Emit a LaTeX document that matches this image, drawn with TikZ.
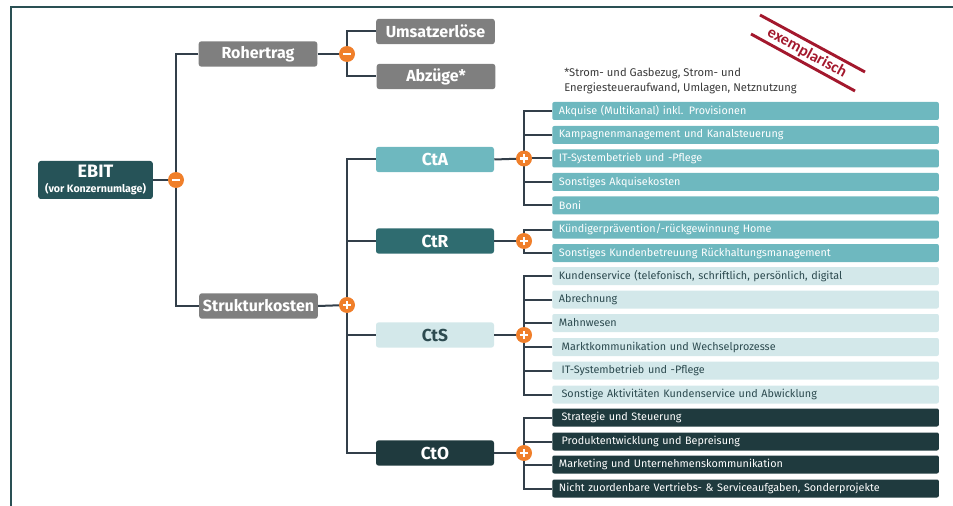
\documentclass[tikz,border=0pt]{standalone}
\usepackage{fontspec}
\setmainfont{Fira Sans}
\newfontfamily\stampfont{Carlito}

\definecolor{framecol}{HTML}{2A5054}
\definecolor{ebitcol}{HTML}{265358}
\definecolor{graycol}{HTML}{7F7F7F}
\definecolor{ctacol}{HTML}{6EB8BF}
\definecolor{ctrcol}{HTML}{2F6C70}
\definecolor{ctscol}{HTML}{D3E8EA}
\definecolor{ctstext}{HTML}{2C4A4F}
\definecolor{ctocol}{HTML}{1F3A3E}
\definecolor{orangecol}{HTML}{F07F2A}
\definecolor{linecol}{HTML}{333F4A}
\definecolor{stampcol}{HTML}{A3182D}
\definecolor{notecol}{HTML}{3A3A3A}

\tikzset{
  box/.style={rounded corners=2pt, text=white, inner sep=0pt,
    minimum width=89pt, minimum height=19pt,
    font=\bfseries\fontsize{12}{13}\selectfont},
  ctbox/.style={box, minimum width=88.5pt, font=\bfseries\fontsize{13}{14}\selectfont},
  item/.style={rounded corners=1.5pt, anchor=west, text=white,
    text width=280pt, inner xsep=5pt, inner ysep=0pt, align=left,
    minimum height=13.5pt, font=\fontsize{8.1}{9}\selectfont},
  conn/.style={draw=linecol, line width=1.5pt},
  opminus/.style={circle, fill=orangecol, minimum size=12pt, inner sep=0pt,
    path picture={\draw[white, line width=1.6pt]
      ([xshift=-3pt]path picture bounding box.center) --
      ([xshift=3pt]path picture bounding box.center);}},
  opplus/.style={opminus,
    path picture={\draw[white, line width=1.6pt]
      ([xshift=-3.2pt]path picture bounding box.center) --
      ([xshift=3.2pt]path picture bounding box.center)
      ([yshift=-3.2pt]path picture bounding box.center) --
      ([yshift=3.2pt]path picture bounding box.center);}}
}

\begin{document}
\begin{tikzpicture}[x=0.75pt, y=-0.75pt]
  \useasboundingbox (0,0) rectangle (953,506);
  % frame
  \draw[framecol, line width=2pt] (11,506) -- (11,7) -- (953,7);

  % left part
  \node[box, fill=ebitcol, minimum width=86pt, minimum height=28.5pt, align=center] (ebit) at (95.5,180)
    {\fontsize{13.5}{13}\selectfont EBIT\\[-1.5pt]\fontsize{8}{8}\selectfont (vor Konzernumlage)};
  \node[box, fill=graycol] (roh) at (258,54) {Rohertrag};
  \node[box, fill=graycol] (struk) at (258.5,306) {Strukturkosten};
  \node[box, fill=graycol] (umsatz) at (435.5,31.5) {Umsatzerlöse};
  \node[box, fill=graycol] (abzug) at (436,76.5) {Abzüge*};

  \coordinate (jebit) at (176,180);
  \coordinate (jroh) at (347,54);
  \coordinate (jstruk) at (347,305);

  % cost blocks
  \node[ctbox, fill=ctacol] (cta) at (435,159.5) {CtA};
  \node[ctbox, fill=ctrcol] (ctr) at (435,241) {CtR};
  \node[ctbox, fill=ctscol, text=ctstext] (cts) at (435,335) {CtS};
  \node[ctbox, fill=ctocol] (cto) at (435,453) {CtO};

  \coordinate (ja) at (524,158.5);
  \coordinate (jr) at (524,241);
  \coordinate (js) at (524,335);
  \coordinate (jo) at (524,453);

  % CtA items
  \node[item, fill=ctacol] (a1) at (552,111) {Akquise (Multikanal) inkl. Provisionen};
  \node[item, fill=ctacol] (a2) at (552,135) {Kampagnenmanagement und Kanalsteuerung};
  \node[item, fill=ctacol] (a3) at (552,158.5) {IT-Systembetrieb und -Pflege};
  \node[item, fill=ctacol] (a4) at (552,182) {Sonstiges Akquisekosten};
  \node[item, fill=ctacol] (a5) at (552,205.5) {Boni};
  % CtR items
  \node[item, fill=ctacol] (r1) at (552,229.5) {Kündigerprävention/-rückgewinnung Home};
  \node[item, fill=ctacol] (r2) at (552,253) {Sonstiges Kundenbetreuung Rückhaltungsmanagement};
  % CtS items
  \node[item, fill=ctscol, text=ctstext] (s1) at (552,276) {Kundenservice (telefonisch, schriftlich, persönlich, digital};
  \node[item, fill=ctscol, text=ctstext] (s2) at (552,299.5) {Abrechnung};
  \node[item, fill=ctscol, text=ctstext] (s3) at (552,323) {Mahnwesen};
  \node[item, fill=ctscol, text=ctstext] (s4) at (552,347) {\hspace{2pt}Marktkommunikation und Wechselprozesse};
  \node[item, fill=ctscol, text=ctstext] (s5) at (552,370.5) {\hspace{2pt}IT-Systembetrieb und -Pflege};
  \node[item, fill=ctscol, text=ctstext] (s6) at (552,394.5) {\hspace{2pt}Sonstige Aktivitäten Kundenservice und Abwicklung};
  % CtO items
  \node[item, fill=ctocol] (o1) at (552,417.5) {\hspace{2pt}Strategie und Steuerung};
  \node[item, fill=ctocol] (o2) at (552,441.5) {\hspace{2pt}Produktentwicklung und Bepreisung};
  \node[item, fill=ctocol] (o3) at (552,464.5) {Marketing und Unternehmenskommunikation};
  \node[item, fill=ctocol] (o4) at (552,488.5) {Nicht zuordenbare Vertriebs- \& Serviceaufgaben, Sonderprojekte};

  % connectors
  \draw[conn] (ebit.east) -- (jebit);
  \draw[conn] (roh.west) -| (jebit) |- (struk.west);
  \draw[conn] (roh.east) -- (jroh);
  \draw[conn] (umsatz.west) -| (jroh) |- (abzug.west);
  \draw[conn] (struk.east) -- (jstruk);
  \draw[conn] (cta.west) -| (jstruk) |- (cto.west);
  \draw[conn] (ctr.west) -- (ctr.west -| jstruk);
  \draw[conn] (cts.west) -- (cts.west -| jstruk);

  \draw[conn] (cta.east) -- (ja);
  \draw[conn] (a1.west) -| (ja) |- (a5.west);
  \draw[conn] (a2.west) -- (a2.west -| ja);
  \draw[conn] (a3.west) -- (a3.west -| ja);
  \draw[conn] (a4.west) -- (a4.west -| ja);

  \draw[conn] (ctr.east) -- (jr);
  \draw[conn] (r1.west) -| (jr) |- (r2.west);

  \draw[conn] (cts.east) -- (js);
  \draw[conn] (s1.west) -| (js) |- (s6.west);
  \draw[conn] (s2.west) -- (s2.west -| js);
  \draw[conn] (s3.west) -- (s3.west -| js);
  \draw[conn] (s4.west) -- (s4.west -| js);
  \draw[conn] (s5.west) -- (s5.west -| js);

  \draw[conn] (cto.east) -- (jo);
  \draw[conn] (o1.west) -| (jo) |- (o4.west);
  \draw[conn] (o2.west) -- (o2.west -| jo);
  \draw[conn] (o3.west) -- (o3.west -| jo);

  % operators
  \node[opminus] (mebit) at (jebit) {};
  \node[opminus] (mroh) at (jroh) {};
  \node[opplus] (pstruk) at (jstruk) {};
  \node[opplus] (pa) at (ja) {};
  \node[opplus] (pr) at (jr) {};
  \node[opplus] (ps) at (js) {};
  \node[opplus] (po) at (jo) {};

  % footnote
  \node[anchor=north west, align=left, text=notecol, inner sep=0pt,
    font=\fontsize{8.4}{10.8}\selectfont] (note) at (564,68)
    {*Strom- und Gasbezug, Strom- und\\Energiesteueraufwand, Umlagen, Netznutzung};

  % stamp
  \draw[stampcol, line width=2.2pt] (760,15) -- (865,72);
  \draw[stampcol, line width=2.2pt] (751,34) -- (855,91);
  \node[text=stampcol, rotate=-28.5, inner sep=0pt,
    font=\stampfont\bfseries\fontsize{12}{12}\selectfont] (stamp) at (807,53) {exemplarisch};
\end{tikzpicture}
\end{document}
